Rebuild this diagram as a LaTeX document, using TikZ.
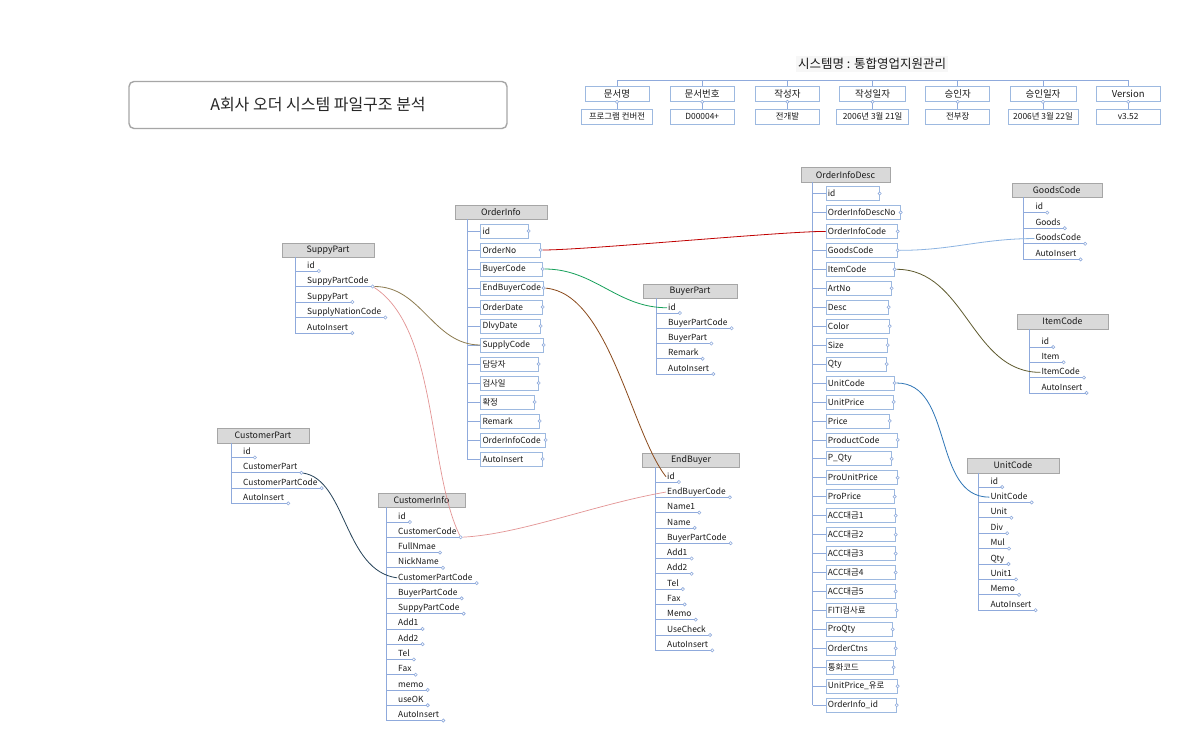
\documentclass[tikz,border=0pt]{standalone}
\usepackage{fontspec}
\setmainfont{Noto Sans CJK KR}
\usetikzlibrary{calc}
\definecolor{trunkc}{HTML}{8FAADC}
\definecolor{boxc}{HTML}{9DB9E0}
\definecolor{headc}{HTML}{A6A6A6}
\definecolor{headfill}{HTML}{D9D9D9}
\definecolor{cred}{HTML}{C00000}
\definecolor{cgreen}{HTML}{16A05A}
\definecolor{cbrown}{HTML}{8B4A1C}
\definecolor{colive}{HTML}{8C7B50}
\definecolor{cpink}{HTML}{E39494}
\definecolor{cteal}{HTML}{27445A}
\definecolor{clblue}{HTML}{8DB4E2}
\definecolor{cdolive}{HTML}{5E5A2E}
\definecolor{csteel}{HTML}{2E75B6}
\newcommand{\fieldfont}{\fontsize{8.4}{10}\selectfont}
\newcommand{\headfont}{\fontsize{8.8}{10}\selectfont}
\newcommand{\boxrow}[5]{%
  \node[fbox, minimum width={#4-#2-13}, anchor=west] (#1) at ({#2+13},#3) {};
  \node[ftext, anchor=west] at (#1.west) {#5};
  \draw[trunk] (#2,#3) -- (#1.west);
  \node[dot] (#1-c) at (#1.east) {};
}
\newcommand{\linerow}[4]{%
  \node[stext, anchor=south west] (#1) at ({#2+11},#3) {#4};
  \draw[trunk] (#2,#3) -- ($(#1.south east)+(3,0)$) node[dot] (#1-c) {};
}
\begin{document}
\begin{tikzpicture}[x=1pt,y=-1pt,
  trunk/.style={draw=trunkc, line width=0.7pt},
  fbox/.style={draw=boxc, line width=0.7pt, minimum height=14pt, inner sep=0pt, fill=white},
  ftext/.style={font=\fieldfont, inner sep=2pt, text=black!90},
  stext/.style={font=\fieldfont, inner xsep=1pt, inner ysep=1pt, text height=6.4pt, text depth=1.7pt, text=black!90},
  dot/.style={circle, draw=trunkc, fill=white, inner sep=0pt, minimum size=3.2pt, line width=0.6pt},
  thead/.style={draw=headc, fill=headfill, minimum height=14.5pt, inner sep=1pt, font=\headfont, text=black!90},
  hbox/.style={draw=boxc, line width=0.7pt, fill=white, minimum height=15pt, inner sep=1pt, text=black!90},
  conn/.style={line width=0.8pt},
]
\fill[white] (0,0) rectangle (1195,739);
\useasboundingbox (0,0) rectangle (1195,739);

% ---------- title ----------
\node[draw=gray!70, line width=1.4pt, rounded corners=5pt, minimum width=378pt, minimum height=47pt,
      font=\fontsize{16}{19}\selectfont, text=black!85] (title) at (318,105) {A회사 오더 시스템 파일구조 분석};

% ---------- document header ----------
\node[fill=gray!6, inner sep=2pt, font=\fontsize{12.5}{14}\selectfont, text=black!90] (sys) at (872,64) {시스템명 : 통합영업지원관리};
\foreach \k/\a/\b/\wa/\wb in {1/문서명/프로그램 컨버전/64/71, 2/문서번호/D00004+/64/64, 3/작성자/전개발/64/64,
  4/작성일자/2006년 3월 21일/66/72, 5/승인자/전부장/64/64, 6/승인일자/2006년 3월 22일/66/70, 7/Version/v3.52/64/64}{
  \pgfmathsetmacro\cx{617+85.2*(\k-1)}
  \node[hbox, minimum width=\wa, font=\fontsize{9.5}{11}\selectfont] (h\k) at (\cx,94) {\a};
  \node[hbox, minimum width=\wb, font=\fontsize{8.4}{9.5}\selectfont] (v\k) at (\cx,116.5) {\b};
  \draw[trunk] (h\k.south) -- (v\k.north);
  \node[dot] at (h\k.south) {};
}
\draw[trunk] (h1.north) -- ++(0,-6) -| (h7.north);
\foreach \k in {2,...,6}{ \draw[trunk] (h\k.north) -- ++(0,-6); }

% ---------- SuppyPart ----------
\node[thead, minimum width=92pt] (sp) at (328,250) {SuppyPart};
\draw[trunk] (295,257.3) -- (295,333);
\foreach \n/\t [count=\i from 0] in {sp-id/id, sp-code/SuppyPartCode, sp-part/SuppyPart, sp-nation/SupplyNationCode, sp-auto/AutoInsert}{
  \pgfmathsetmacro\yy{271+15.5*\i}
  \linerow{\n}{295}{\yy}{\t}
}

% ---------- CustomerPart ----------
\node[thead, minimum width=92pt] (cp) at (263,435.5) {CustomerPart};
\draw[trunk] (231,442.8) -- (231,503.5);
\foreach \n/\t [count=\i from 0] in {cp-id/id, cp-part/CustomerPart, cp-code/CustomerPartCode, cp-auto/AutoInsert}{
  \pgfmathsetmacro\yy{457.5+15.3*\i}
  \linerow{\n}{231}{\yy}{\t}
}

% ---------- CustomerInfo ----------
\node[thead, minimum width=87pt] (ci) at (421.5,500) {CustomerInfo};
\draw[trunk] (386,507.3) -- (386,720.5);
\foreach \n/\t [count=\i from 0] in {ci-id/id, ci-code/CustomerCode, ci-full/FullNmae, ci-nick/NickName, ci-cpcode/CustomerPartCode,
  ci-bpcode/BuyerPartCode, ci-spcode/SuppyPartCode, ci-add1/Add1, ci-add2/Add2, ci-tel/Tel, ci-fax/Fax, ci-memo/memo, ci-useok/useOK, ci-auto/AutoInsert}{
  \pgfmathsetmacro\yy{522+15.27*\i}
  \linerow{\n}{386}{\yy}{\t}
}

% ---------- BuyerPart ----------
\node[thead, minimum width=94pt] (bp) at (690,291) {BuyerPart};
\draw[trunk] (656,298.3) -- (656,374);
\foreach \n/\t [count=\i from 0] in {bp-id/id, bp-code/BuyerPartCode, bp-part/BuyerPart, bp-remark/Remark, bp-auto/AutoInsert}{
  \pgfmathsetmacro\yy{313+15.25*\i}
  \linerow{\n}{656}{\yy}{\t}
}

% ---------- EndBuyer ----------
\node[thead, minimum width=97pt] (eb) at (691,460) {EndBuyer};
\draw[trunk] (655,467.3) -- (655,650.3);
\foreach \n/\t [count=\i from 0] in {eb-id/id, eb-code/EndBuyerCode, eb-name1/Name1, eb-name/Name, eb-bpcode/BuyerPartCode, eb-add1/Add1,
  eb-add2/Add2, eb-tel/Tel, eb-fax/Fax, eb-memo/Memo, eb-use/UseCheck, eb-auto/AutoInsert}{
  \pgfmathsetmacro\yy{482+15.3*\i}
  \linerow{\n}{655}{\yy}{\t}
}

% ---------- GoodsCode ----------
\node[thead, minimum width=90pt] (gc) at (1056.7,190) {GoodsCode};
\draw[trunk] (1023.3,197.3) -- (1023.3,259.4);
\foreach \n/\t [count=\i from 0] in {gc-id/id, gc-goods/Goods, gc-code/GoodsCode, gc-auto/AutoInsert}{
  \pgfmathsetmacro\yy{212.6+15.6*\i}
  \linerow{\n}{1023.3}{\yy}{\t}
}

% ---------- ItemCode ----------
\node[thead, minimum width=91pt] (ic) at (1062.5,321.5) {ItemCode};
\draw[trunk] (1029.3,328.8) -- (1029.3,393);
\foreach \n/\t [count=\i from 0] in {ic-id/id, ic-item/Item, ic-code/ItemCode, ic-auto/AutoInsert}{
  \pgfmathsetmacro\yy{347+15.3*\i}
  \linerow{\n}{1029.3}{\yy}{\t}
}

% ---------- UnitCode ----------
\node[thead, minimum width=92pt] (uc) at (1013,465.5) {UnitCode};
\draw[trunk] (978.3,472.8) -- (978.3,610.2);
\foreach \n/\t [count=\i from 0] in {uc-id/id, uc-code/UnitCode, uc-unit/Unit, uc-div/Div, uc-mul/Mul, uc-qty/Qty, uc-unit1/Unit1, uc-memo/Memo, uc-auto/AutoInsert}{
  \pgfmathsetmacro\yy{487+15.4*\i}
  \linerow{\n}{978.3}{\yy}{\t}
}

% ---------- OrderInfo ----------
\node[thead, minimum width=92pt] (oi) at (501,212) {OrderInfo};
\draw[trunk] (467.3,219.3) -- (467.3,459);
\foreach \n/\t/\r [count=\i from 0] in {oi-id/id/528, oi-orderno/OrderNo/540, oi-buyer/BuyerCode/542, oi-endbuyer/EndBuyerCode/543,
  oi-odate/OrderDate/542, oi-dlvy/DlvyDate/540, oi-supply/SupplyCode/543, oi-dam/담당자/538, oi-geom/검사일/538, oi-hwak/확정/534,
  oi-remark/Remark/539, oi-oicode/OrderInfoCode/545, oi-auto/AutoInsert/542}{
  \pgfmathsetmacro\yy{231+19*\i}
  \boxrow{\n}{467.3}{\yy}{\r}{\t}
}

% ---------- OrderInfoDesc ----------
\node[thead, minimum width=89pt] (oid) at (845.5,174.5) {OrderInfoDesc};
\draw[trunk] (812.7,181.8) -- (812.7,705.2);
\foreach \n/\t/\r [count=\i from 0] in {oid-id/id/879, oid-descno/OrderInfoDescNo/900, oid-oicode/OrderInfoCode/897, oid-goods/GoodsCode/897,
  oid-item/ItemCode/894, oid-artno/ArtNo/891, oid-desc/Desc/888, oid-color/Color/889, oid-size/Size/887, oid-qty/Qty/886,
  oid-unit/UnitCode/894, oid-uprice/UnitPrice/893, oid-price/Price/889, oid-pcode/ProductCode/897, oid-pqty/P\_Qty/891,
  oid-puprice/ProUnitPrice/897, oid-pprice/ProPrice/894, oid-acc1/ACC대금1/895, oid-acc2/ACC대금2/895, oid-acc3/ACC대금3/895,
  oid-acc4/ACC대금4/895, oid-acc5/ACC대금5/895, oid-fiti/FITI검사료/896, oid-proqty/ProQty/892, oid-ctns/OrderCtns/895,
  oid-cur/통화코드/893, oid-upeuro/UnitPrice\_유로/897, oid-oiid/OrderInfo\_id/896}{
  \pgfmathsetmacro\yy{193.5+18.95*\i}
  \boxrow{\n}{812.7}{\yy}{\r}{\t}
}

% ---------- connectors ----------
\draw[conn, draw=cred] (oi-orderno-c) to[out=0,in=180,looseness=0.4] (oid-oicode.west);
\draw[conn, draw=cgreen] (oi-buyer-c) to[out=0,in=180] (bp-id.west);
\draw[conn, draw=cbrown] (oi-endbuyer-c) .. controls +(65,5) and +(-35,-45) .. (eb-id.west);
\draw[conn, draw=colive] (sp-code-c) to[out=0,in=180] (oi-supply.west);
\draw[conn, draw=cpink, line width=0.7pt] (sp-code-c) .. controls +(65,42) and +(-33,-67) .. (ci-code-c);
\draw[conn, draw=cpink, line width=0.7pt] (ci-code-c) .. controls +(60,-3) and +(-70,12) .. (eb-code.west);
\draw[conn, draw=cteal] (cp-part-c) .. controls +(45,7) and +(-53,-7) .. (ci-cpcode.west);
\draw[conn, draw=clblue] (oid-goods-c) to[out=0,in=180] (gc-code.west);
\draw[conn, draw=cdolive] (oid-item-c) to[out=0,in=180] (ic-code.west);
\draw[conn, draw=csteel] (oid-unit-c) to[out=0,in=180] (uc-code.west);
\end{tikzpicture}
\end{document}
